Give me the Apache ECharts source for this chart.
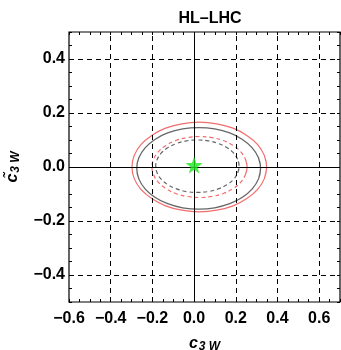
<!DOCTYPE html>
<html>
<head>
<meta charset="utf-8">
<script src="https://cdn.jsdelivr.net/npm/echarts@6/dist/echarts.min.js"></script>
<style>html,body{margin:0;padding:0;background:#fff}#c{width:341px;height:350px}</style>
</head>
<body>
<div id="c"></div>
<script>
// ---- data ----
const xMajorTicks = [-0.6, -0.4, -0.2, 0.0, 0.2, 0.4, 0.6];
const yMajorTicks = [-0.4, -0.2, 0.0, 0.2, 0.4];
const xGridLines = [-0.4, -0.2, 0.2, 0.4, 0.6];
const yGridLines = [-0.4, -0.2, 0.2, 0.4];

// outer red solid contour
const redSolidX = [0.348, 0.337, 0.305, 0.253, 0.187, 0.109, 0.025, -0.059, -0.137, -0.203, -0.255, -0.287, -0.298, -0.287, -0.255, -0.203, -0.137, -0.059, 0.025, 0.109, 0.187, 0.253, 0.305, 0.337, 0.348];
const redSolidY = [0.000, 0.043, 0.083, 0.117, 0.144, 0.160, 0.166, 0.160, 0.144, 0.117, 0.083, 0.043, 0.000, -0.043, -0.083, -0.117, -0.144, -0.160, -0.166, -0.160, -0.144, -0.117, -0.083, -0.043, 0.000];
// gray solid contour
const graySolidX = [0.319, 0.309, 0.279, 0.232, 0.171, 0.099, 0.022, -0.055, -0.127, -0.188, -0.235, -0.265, -0.275, -0.265, -0.235, -0.188, -0.127, -0.055, 0.022, 0.099, 0.171, 0.232, 0.279, 0.309, 0.319];
const graySolidY = [-0.005, 0.034, 0.071, 0.102, 0.126, 0.141, 0.146, 0.141, 0.126, 0.102, 0.071, 0.034, -0.005, -0.044, -0.081, -0.112, -0.136, -0.151, -0.156, -0.151, -0.136, -0.112, -0.081, -0.044, -0.005];
// red dashed contour
const redDashX = [0.254, 0.246, 0.223, 0.187, 0.140, 0.085, 0.026, -0.033, -0.088, -0.135, -0.171, -0.194, -0.202, -0.194, -0.171, -0.135, -0.088, -0.033, 0.026, 0.085, 0.140, 0.187, 0.223, 0.246, 0.254];
const redDashY = [0.000, 0.029, 0.057, 0.080, 0.098, 0.109, 0.113, 0.109, 0.098, 0.080, 0.057, 0.029, 0.000, -0.029, -0.057, -0.080, -0.098, -0.109, -0.113, -0.109, -0.098, -0.080, -0.057, -0.029, 0.000];
// gray dashed contour
const grayDashX = [0.216, 0.209, 0.189, 0.157, 0.116, 0.068, 0.016, -0.036, -0.084, -0.125, -0.157, -0.177, -0.184, -0.177, -0.157, -0.125, -0.084, -0.036, 0.016, 0.068, 0.116, 0.157, 0.189, 0.209, 0.216];
const grayDashY = [0.003, 0.028, 0.052, 0.072, 0.087, 0.097, 0.100, 0.097, 0.087, 0.072, 0.052, 0.028, 0.003, -0.022, -0.046, -0.066, -0.081, -0.091, -0.094, -0.091, -0.081, -0.066, -0.046, -0.022, 0.003];
// best-fit point (star)
const starX = [0.0];
const starY = [0.007];

// ---- build ----
function loop(xs, ys) {
  const p = xs.map((x, i) => [x, ys[i]]);
  const n = p.length;
  return [p[n - 2]].concat(p, [p[1]]);
}
function isMajor(v, list) { return list.some(t => Math.abs(t - v) < 1e-6); }
function fmt(v) {
  if (Math.abs(v) < 1e-9) return '0.0';
  return (v < 0 ? '\u2212' : '') + Math.abs(v).toFixed(1);
}
const FF = 'Liberation Sans, Arial, sans-serif';
const labelFont = { fontFamily: FF, fontWeight: 'bold', fontSize: 16, color: '#000' };
const RED = '#f26d6d', GRAY = '#666666';
const STAR = 'path://M0,-10 L2.35,-3.24 L9.51,-3.09 L3.80,1.24 L5.88,8.09 L0,4 L-5.88,8.09 L-3.80,1.24 L-9.51,-3.09 L-2.35,-3.24 Z';
const nameRich = {
  c: { fontFamily: FF, fontWeight: 'bold', fontStyle: 'italic', fontSize: 16, color: '#000' },
  s: { fontFamily: FF, fontWeight: 'bold', fontStyle: 'italic', fontSize: 12, color: '#000', padding: [6, 0, 0, 1] }
};

const chart = echarts.init(document.getElementById('c'), null, { renderer: 'canvas' });
const tick = { show: true, inside: true, length: 3, lineStyle: { color: '#000', width: 1 } };
chart.setOption({
  animation: false,
  title: { text: 'HL\u2013LHC', left: 205, textAlign: 'center', top: 6,
    textStyle: { fontFamily: FF, fontWeight: 'bold', fontSize: 16, color: '#000' } },
  grid: { left: 69, right: 1, top: 32, bottom: 48, containLabel: false, outerBoundsMode: 'none',
    show: true, borderColor: '#000', borderWidth: 1.2, backgroundColor: 'transparent' },
  xAxis: [
    { type: 'value', min: -0.6, max: 0.7, interval: 0.05, position: 'bottom',
      axisLine: { show: false, onZero: false }, splitLine: { show: false }, axisTick: tick,
      axisLabel: Object.assign({ margin: 9, formatter: v => isMajor(v, xMajorTicks) ? fmt(v) : '' }, labelFont),
      name: '{c|c}{s|3 W}', nameLocation: 'middle', nameGap: 33, nameTextStyle: { rich: nameRich } },
    { type: 'value', min: -0.6, max: 0.7, interval: 0.05, position: 'top',
      axisLine: { show: false, onZero: false }, splitLine: { show: false }, axisTick: tick, axisLabel: { show: false } }
  ],
  yAxis: [
    { type: 'value', min: -0.5, max: 0.5, interval: 0.05, position: 'left',
      axisLine: { show: false, onZero: false }, splitLine: { show: false }, axisTick: tick,
      axisLabel: Object.assign({ margin: 4, formatter: v => isMajor(v, yMajorTicks) ? fmt(v) : '' }, labelFont),
      name: '{c|c\u0303}{s|3 W}', nameLocation: 'middle', nameGap: 47, nameRotate: 90,
      nameTextStyle: { rich: nameRich } },
    { type: 'value', min: -0.5, max: 0.5, interval: 0.05, position: 'right',
      axisLine: { show: false, onZero: false }, splitLine: { show: false }, axisTick: tick, axisLabel: { show: false } }
  ],
  series: [
    { type: 'line', data: [], z: 1, silent: true,
      markLine: { silent: true, symbol: 'none', label: { show: false }, animation: false,
        lineStyle: { color: '#000', type: [5, 4], width: 1 },
        data: xGridLines.map(v => ({ xAxis: v })).concat(yGridLines.map(v => ({ yAxis: v }))) } },
    { type: 'line', data: [], z: 1, silent: true,
      markLine: { silent: true, symbol: 'none', label: { show: false }, animation: false,
        lineStyle: { color: '#000', type: 'solid', width: 1 },
        data: [{ xAxis: 0 }, { yAxis: 0 }] } },
    { name: 'red', type: 'line', data: loop(redSolidX, redSolidY), smooth: 0.4, showSymbol: false, z: 3,
      lineStyle: { color: RED, width: 1.2 } },
    { name: 'gray', type: 'line', data: loop(graySolidX, graySolidY), smooth: 0.4, showSymbol: false, z: 3,
      lineStyle: { color: GRAY, width: 1.3 } },
    { name: 'redDash', type: 'line', data: loop(redDashX, redDashY), smooth: 0.4, showSymbol: false, z: 3,
      lineStyle: { color: RED, width: 1.2, type: [4, 3] } },
    { name: 'grayDash', type: 'line', data: loop(grayDashX, grayDashY), smooth: 0.4, showSymbol: false, z: 3,
      lineStyle: { color: GRAY, width: 1.2, type: [4, 3] } },
    { name: 'star', type: 'scatter', data: starX.map((x, i) => [x, starY[i]]), symbol: STAR, symbolSize: 17, z: 5,
      itemStyle: { color: '#1ee61e' } }
  ]
});
</script>
</body>
</html>
